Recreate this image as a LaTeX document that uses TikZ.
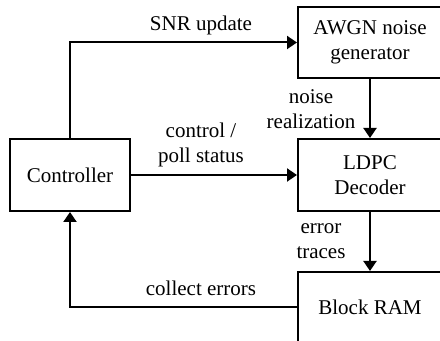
\documentclass[tikz,border=0pt]{standalone}
\usepackage{fontspec}
\setmainfont{Liberation Serif}
\usetikzlibrary{arrows.meta}
\begin{document}
\begin{tikzpicture}[x=0.5pt,y=-0.5pt,
  every node/.style={font=\fontsize{10.5}{12.5}\selectfont},
  blk/.style={draw,line width=1pt,rectangle,inner sep=0pt,align=center},
  lbl/.style={align=center,inner sep=0pt},
  arr/.style={line width=1pt,-{Triangle[length=5pt,width=6.5pt]}}]
\useasboundingbox (0,0) rectangle (440,341);
\clip (0,0) rectangle (440,341);
\node[blk,minimum width=60pt,minimum height=36pt] (ctrl) at (70,175) {Controller};
\node[blk,minimum width=72pt,minimum height=35.5pt] (awgn) at (370,42.5) {AWGN noise\\generator};
\node[blk,minimum width=72pt,minimum height=36pt] (ldpc) at (370,175) {LDPC\\Decoder};
\node[blk,minimum width=72pt,minimum height=35pt] (bram) at (370,307) {Block RAM};
\draw[arr] (ctrl.north) |- (awgn.west);
\draw[arr] (ctrl.east) -- (ldpc.west);
\draw[arr] (awgn.south) -- (ldpc.north);
\draw[arr] (ldpc.south) -- (bram.north);
\draw[arr] (bram.west) -| (ctrl.south);
\node[lbl] (l1) at (201,25) {SNR update};
\node[lbl] (l2) at (201,145) {control /\\poll status};
\node[lbl] (l3) at (311,109) {noise\\realization};
\node[lbl] (l4) at (321,241) {error\\traces};
\node[lbl] (l5) at (201,288) {collect errors};
\end{tikzpicture}
\end{document}
